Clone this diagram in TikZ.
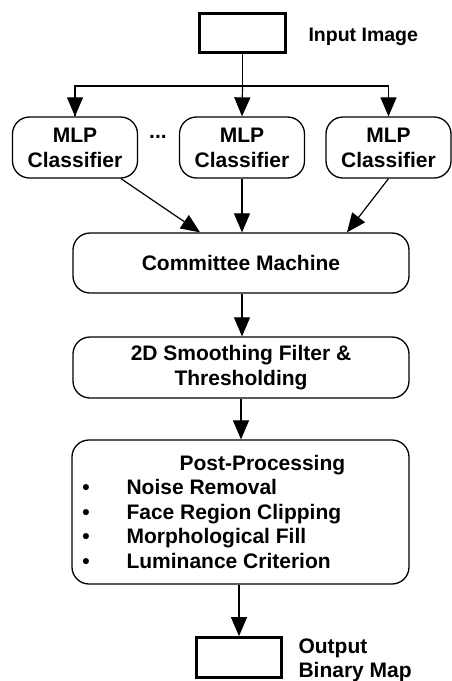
\documentclass[tikz,border=0pt]{standalone}
\usepackage{fontspec}
\setmainfont{Liberation Sans}
\usetikzlibrary{arrows.meta,calc}
\begin{document}
\begin{tikzpicture}[x=1pt,y=-1pt,
  txt/.style={font=\bfseries\fontsize{21}{25}\selectfont},
  rbox/.style={draw,line width=1.3pt,rounded corners=17pt,txt,align=center,inner sep=0pt},
  sbox/.style={draw,line width=2.8pt,inner sep=0pt},
  arr/.style={line width=1.2pt,-{Triangle[length=19pt,width=16pt]}},
  ln/.style={line width=1.2pt}]
\useasboundingbox (0,0) rectangle (452,681);
\node[sbox,minimum width=86pt,minimum height=39pt] (in) at (242.5,33) {};
\node[anchor=base west,font=\bfseries\fontsize{19.5}{24}\selectfont] (inl) at (305,41) {Input Image};
\node[rbox,minimum width=125pt,minimum height=61pt] (c1) at (75,147.5) {MLP\\Classifier};
\node[rbox,minimum width=125pt,minimum height=61pt] (c2) at (242,147.5) {MLP\\Classifier};
\node[rbox,minimum width=125pt,minimum height=61pt] (c3) at (388.5,147.5) {MLP\\Classifier};
\node[txt] (dots) at (158,137) {...};
\node[rbox,minimum width=336pt,minimum height=60pt] (cm) at (241,263) {Committee Machine};
\node[rbox,minimum width=336pt,minimum height=61pt] (sm) at (241,367.5) {2D Smoothing Filter \&\\Thresholding};
\node[rbox,minimum width=337pt,minimum height=144pt] (pp) at (240.5,512) {};
\node[txt,anchor=base west] (pph) at (176,470) {Post-Processing};
\node[txt,anchor=base] (b1) at (86,494) {\textbullet};
\node[txt,anchor=base] (b2) at (86,519) {\textbullet};
\node[txt,anchor=base] (b3) at (86,543) {\textbullet};
\node[txt,anchor=base] (b4) at (86,568) {\textbullet};
\node[txt,anchor=base west] (i1) at (123,494) {Noise Removal};
\node[txt,anchor=base west] (i2) at (123,519) {Face Region Clipping};
\node[txt,anchor=base west] (i3) at (123,543) {Morphological Fill};
\node[txt,anchor=base west] (i4) at (123,568) {Luminance Criterion};
\node[sbox,minimum width=85pt,minimum height=40pt] (out) at (239,657.5) {};
\node[txt,anchor=base west] (outl) at (295,653) {Output};
\node[txt,anchor=base west] (outl2) at (295,677) {Binary Map};
\coordinate (split) at (242.5,86);
\draw[ln] (in.south) -- (split);
\draw[ln] (split) -| (c1.north);
\draw[ln] (split) -| (c3.north);
\draw[arr] (split) -- (c2.north);
\draw[arr] (c1.north |- split) -- (c1.north);
\draw[arr] (c3.north |- split) -- (c3.north);
\draw[arr] ([xshift=46pt]c1.south) -- ([xshift=-41pt]cm.north);
\draw[arr] (c2.south) -- (c2.south |- cm.north);
\draw[arr] (c3.south) -- ([xshift=106pt]cm.north);
\draw[arr] (cm.south -| c2.south) -- (sm.north -| c2.south);
\draw[arr] (sm.south) -- (pp.north -| sm.south);
\draw[arr] (pp.south -| out.north) -- (out.north);
\end{tikzpicture}
\end{document}
